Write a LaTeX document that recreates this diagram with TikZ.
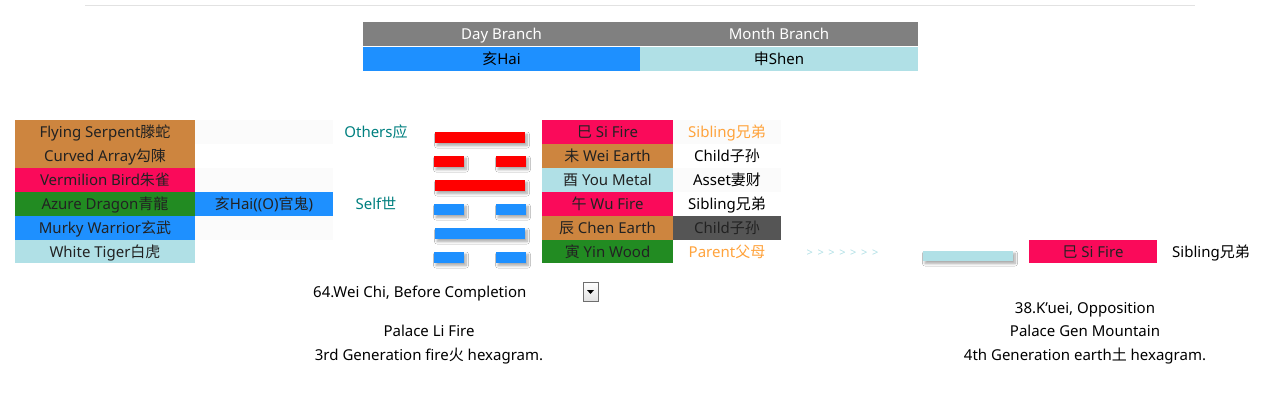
\documentclass[tikz,border=0pt]{standalone}
\usepackage{fontspec}
\setmainfont{Noto Sans}
\newfontfamily\cjk{Noto Sans CJK SC}
\usetikzlibrary{shadows.blur,calc}
\definecolor{pinkc}{RGB}{250,10,90}
\definecolor{peruc}{RGB}{205,133,63}
\definecolor{greenc}{RGB}{34,139,34}
\definecolor{bluec}{RGB}{30,144,255}
\definecolor{powderc}{RGB}{176,224,230}
\definecolor{headc}{RGB}{128,128,128}
\definecolor{darkc}{RGB}{85,85,85}
\definecolor{orangec}{RGB}{255,163,60}
\definecolor{tealc}{RGB}{0,128,128}
\definecolor{lightc}{RGB}{251,251,251}
\definecolor{txtc}{RGB}{34,34,34}
\definecolor{rulec}{RGB}{226,226,226}
\tikzset{
  every node/.style={font=\fontsize{15}{18}\selectfont, text=txtc},
  cell/.style={inner sep=0pt, minimum height=24pt, anchor=center, text height=13pt, text depth=1.5pt},
  leftc/.style={cell, minimum width=180pt},
  midc/.style={cell, minimum width=138pt},
  brc/.style={cell, minimum width=131pt},
  relc/.style={cell, minimum width=108pt},
  bar/.style={inner sep=0pt, minimum height=11pt, blur shadow={shadow xshift=2pt, shadow yshift=-2.5pt, shadow blur steps=8, shadow blur radius=2.5pt, shadow opacity=35}},
  yang/.style={bar, minimum width=90pt},
  yin/.style={bar, minimum width=30pt},
  plain/.style={inner sep=0pt, text height=13pt, text depth=1.5pt},
}
\begin{document}
\begin{tikzpicture}[x=1pt,y=-1pt]
\useasboundingbox (0,0) rectangle (1280,414);
\fill[white] (0,0) rectangle (1280,414);
% top rule
\coordinate (r1) at (85,5.5);
\coordinate (r2) at (1195,5.5);
\draw[rulec, line width=1.2pt] (r1) -- (r2);
% branch table
\node[cell, fill=headc, minimum width=277pt, text=white] (dayh) at (501.5,34) {Day Branch};
\node[cell, fill=headc, minimum width=278pt, text=white] (monh) at (779,34) {Month Branch};
\node[cell, fill=bluec, minimum width=277pt, text=black] (dayv) at (501.5,59) {{\cjk 亥}Hai};
\node[cell, fill=powderc, minimum width=278pt, text=black] (monv) at (779,59) {{\cjk 申}Shen};
% left table, animals
\node[leftc, fill=peruc] (a1) at (105,132) {Flying Serpent{\cjk 滕蛇}};
\node[leftc, fill=peruc] (a2) at (105,156) {Curved Array{\cjk 勾陳}};
\node[leftc, fill=pinkc] (a3) at (105,180) {Vermilion Bird{\cjk 朱雀}};
\node[leftc, fill=greenc] (a4) at (105,204) {Azure Dragon{\cjk 青龍}};
\node[leftc, fill=bluec] (a5) at (105,228) {Murky Warrior{\cjk 玄武}};
\node[leftc, fill=powderc, minimum height=23pt] (a6) at (105,251.5) {White Tiger{\cjk 白虎}};
% hidden column
\node[midc, fill=lightc] (h1) at (264,132) {};
\node[midc, fill=lightc] (h3) at (264,180) {};
\node[midc, fill=bluec] (h4) at (264,204) {{\cjk 亥}Hai((O){\cjk 官鬼})};
\node[midc, fill=lightc] (h5) at (264,228) {};
% self / others
\node[plain, text=tealc] (oth) at (376,132) {Others{\cjk 应}};
\node[plain, text=tealc] (slf) at (376,204) {Self{\cjk 世}};
% hexagram bars
\node[yang, fill=red] (b6) at (480,137.5) {};
\node[yin, fill=red] (b5l) at (449,161.5) {};
\node[yin, fill=red] (b5r) at (511,161.5) {};
\node[yang, fill=red] (b4) at (480,185.5) {};
\node[yin, fill=bluec] (b3l) at (449,209.5) {};
\node[yin, fill=bluec] (b3r) at (511,209.5) {};
\node[yang, fill=bluec] (b2) at (480,233.5) {};
\node[yin, fill=bluec] (b1l) at (449,257.5) {};
\node[yin, fill=bluec] (b1r) at (511,257.5) {};
% branches
\node[brc, fill=pinkc] (c1) at (607.5,132) {{\cjk 巳} Si Fire};
\node[brc, fill=peruc] (c2) at (607.5,156) {{\cjk 未} Wei Earth};
\node[brc, fill=powderc] (c3) at (607.5,180) {{\cjk 酉} You Metal};
\node[brc, fill=pinkc] (c4) at (607.5,204) {{\cjk 午} Wu Fire};
\node[brc, fill=peruc] (c5) at (607.5,228) {{\cjk 辰} Chen Earth};
\node[brc, fill=greenc, minimum height=23pt] (c6) at (607.5,251.5) {{\cjk 寅} Yin Wood};
% relations
\node[relc, fill=lightc, text=orangec] (d1) at (727,132) {Sibling{\cjk 兄弟}};
\node[relc, text=black] (d2) at (727,156) {Child{\cjk 子孙}};
\node[relc, fill=lightc, text=black] (d3) at (727,180) {Asset{\cjk 妻财}};
\node[relc, text=black] (d4) at (727,204) {Sibling{\cjk 兄弟}};
\node[relc, fill=darkc] (d5) at (727,228) {Child{\cjk 子孙}};
\node[relc, text=orangec, minimum height=23pt] (d6) at (727,251.5) {Parent{\cjk 父母}};
% changed line
\node[inner sep=0pt, text=powderc, font=\fontsize{11}{12}\selectfont] (arr) at (842.5,253) {>\hspace{4.6pt}>\hspace{4.6pt}>\hspace{4.6pt}>\hspace{4.6pt}>\hspace{4.6pt}>\hspace{4.6pt}>};
\node[bar, fill=powderc, minimum width=90pt, minimum height=10pt] (cb) at (968,256) {};
\node[cell, fill=pinkc, minimum width=128pt, minimum height=23pt] (cc) at (1093,251.5) {{\cjk 巳} Si Fire};
\node[plain, text=black] (cr) at (1211,252) {Sibling{\cjk 兄弟}};
% selector
\node[plain, anchor=west, text=black] (sel) at (313,292) {64.Wei Chi, Before Completion};
\node[inner sep=0pt, minimum width=15pt, minimum height=19pt, draw={rgb,255:red,110;green,110;blue,110}, line width=0.8pt, top color=white, bottom color={rgb,255:red,225;green,225;blue,225}] (dd) at (590.5,291.5) {};
\fill[black] ($(dd.center)+(-3.5,-1.5)$) -- ($(dd.center)+(3.5,-1.5)$) -- ($(dd.center)+(0,2.5)$) -- cycle;
% left captions
\node[plain, text=black] (p1) at (429,331) {Palace Li Fire};
\node[plain, text=black] (p2) at (429,355) {3rd Generation fire{\cjk 火} hexagram.};
% right captions
\node[plain, text=black] (q0) at (1085,308) {38.K'uei, Opposition};
\node[plain, text=black] (q1) at (1085,331) {Palace Gen Mountain};
\node[plain, text=black] (q2) at (1085,355) {4th Generation earth{\cjk 土} hexagram.};
\end{tikzpicture}
\end{document}
